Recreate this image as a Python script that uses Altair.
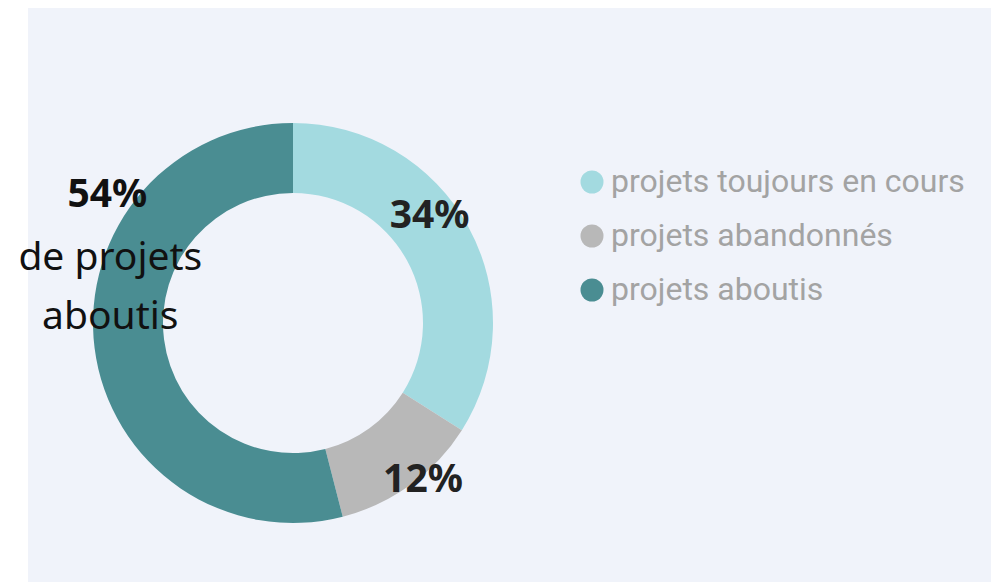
import altair as alt
import pandas as pd

categories = ["projets toujours en cours", "projets abandonnés", "projets aboutis"]
shares = [34, 12, 54]
labels = ["34%", "12%", "54%"]
order = [1, 2, 3]
colors = ["#a3dae0", "#b8b8b8", "#4a8d92"]
caption = ["de projets", "aboutis"]

df = pd.DataFrame({"cat": categories, "share": shares, "label": labels, "order": order})

cx, cy = 265, 315
FONT = "Noto Sans"
FS = 39

base = alt.Chart(df).encode(
    theta=alt.Theta("share:Q", stack=True),
    order=alt.Order("order:Q"),
    x=alt.value(cx),
    y=alt.value(cy),
)

arcs = base.mark_arc(radius=200, innerRadius=130, stroke=None).encode(
    color=alt.Color(
        "cat:N",
        scale=alt.Scale(domain=categories, range=colors),
        legend=alt.Legend(
            title=None, orient="none", legendX=548, legendY=158,
            symbolType="circle", symbolSize=529, symbolStrokeWidth=0,
            symbolOpacity=1, labelFont="Roboto", labelFontSize=32,
            labelColor="#a3a3a3", rowPadding=22, labelOffset=3,
            labelLimit=600,
        ),
    )
)

def pct_layer(cat, dx, dy, color="#222222"):
    return base.mark_text(
        radius=165, dx=dx, dy=dy, font=FONT, fontSize=FS, fontWeight="bold",
        color=color, align="center", baseline="middle",
    ).encode(
        text=alt.condition(alt.datum.cat == cat, alt.Text("label:N"), alt.value(""))
    )

t34 = pct_layer(categories[0], -8, -28)
t12 = pct_layer(categories[1], 33, 24)
t54 = base.mark_text(
    radius=165, dx=-22, dy=-137, font=FONT, fontSize=FS, fontWeight="bold",
    color="#111111", align="center", baseline="alphabetic",
).encode(
    text=alt.condition(alt.datum.cat == categories[2], alt.Text("label:N"), alt.value(""))
)
cap = base.mark_text(
    radius=165, dx=-19, dy=-74, font=FONT, fontSize=FS, fontWeight="normal",
    color="#111111", align="center", baseline="alphabetic", lineBreak="\n",
    lineHeight=59,
).encode(
    text=alt.condition(alt.datum.cat == categories[2], alt.value("\n".join(caption)), alt.value(""))
)

chart = (
    alt.layer(arcs, t34, t12, t54, cap)
    .properties(width=963, height=574,
                padding={"left": 20, "top": 0, "right": 0, "bottom": 0},
                autosize=alt.AutoSizeParams(type="none"),
                background="white")
    .configure_view(fill="#f0f3fa", strokeWidth=0)
)

chart.save("out.html", embed_options={"renderer": "svg", "actions": False})
